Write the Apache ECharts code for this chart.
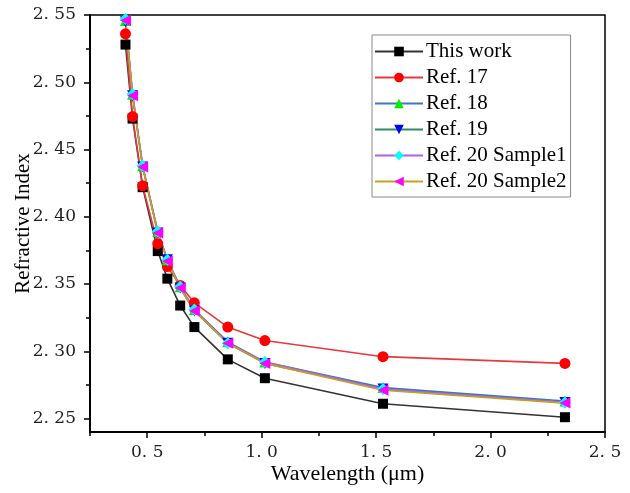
<!DOCTYPE html>
<html lang="en">
  <head>
    <meta charset="utf-8">
    <title>Refractive index</title>
    <script src="https://cdn.jsdelivr.net/npm/echarts@6/dist/echarts.min.js"></script>
    <style>
      html, body { margin: 0; padding: 0; background: #fff; }
    </style>
  </head>
  <body>
    <div id="main" style="width:630px;height:493px;"></div>

    <script>
    // wavelengths in um
    var wavelength = [0.405, 0.436, 0.48, 0.546, 0.588, 0.644, 0.706, 0.852, 1.014, 1.53, 2.325];

    var thisWork = [2.528, 2.473, 2.422, 2.3745, 2.354, 2.334, 2.318, 2.294, 2.280, 2.261, 2.251];
    var ref17    = [2.536, 2.4745, 2.423, 2.380, 2.363, 2.349, 2.336, 2.318, 2.308, 2.296, 2.291];
    var ref18    = [2.546, 2.491, 2.438, 2.389, 2.368, 2.348, 2.331, 2.307, 2.292, 2.273, 2.263];
    var ref19    = [2.545, 2.490, 2.437, 2.388, 2.368, 2.347, 2.330, 2.306, 2.291, 2.272, 2.262];
    var ref20s1  = [2.547, 2.491, 2.438, 2.389, 2.368, 2.348, 2.331, 2.306, 2.292, 2.272, 2.262];
    var ref20s2  = [2.546, 2.490, 2.437, 2.388, 2.367, 2.347, 2.330, 2.306, 2.291, 2.271, 2.2615];

    var xMajor = [0.5, 1.0, 1.5, 2.0, 2.5];
    var xMinor = [0.25, 0.75, 1.25, 1.75, 2.25];
    var yMajor = [2.25, 2.30, 2.35, 2.40, 2.45, 2.50, 2.55];
    var yMinor = [2.275, 2.325, 2.375, 2.425, 2.475, 2.525];

    var font = 'Liberation Serif';
    var tickFont = 'DejaVu Serif';
    var myChart = echarts.init(document.getElementById('main'));

    function pairs(ys) {
      return ys.map((v, i) => [wavelength[i], v]);
    }

    function mkSeries(name, ys, lineColor, markColor, symbol, rot, size) {
      return {
        name: name,
        type: 'line',
        xAxisIndex: 0,
        yAxisIndex: 0,
        data: pairs(ys),
        symbol: symbol,
        symbolSize: size,
        symbolRotate: rot,
        showAllSymbol: true,
        lineStyle: { color: lineColor, width: 1.6 },
        itemStyle: { color: markColor, borderWidth: 0 },
        emphasis: { disabled: true },
        animation: false
      };
    }

    var axisLine = { show: true, lineStyle: { color: '#000', width: 2 } };

    var option = {
      backgroundColor: '#fff',
      grid: {
        left: 90, top: 15, right: 25, bottom: 61,
        containLabel: false,
        outerBoundsMode: 'none',
        show: true, borderColor: '#000', borderWidth: 1.5
      },
      legend: {
        orient: 'vertical',
        left: 372, top: 35,
        padding: [6, 4, 5, 2],
        itemGap: 5,
        itemWidth: 48,
        itemHeight: 12,
        backgroundColor: '#fff',
        borderColor: '#888',
        borderWidth: 1,
        textStyle: { fontFamily: font, fontSize: 21, color: '#000', padding: [0, 0, 0, -2] },
        data: ['This work', 'Ref. 17', 'Ref. 18', 'Ref. 19', 'Ref. 20 Sample1', 'Ref. 20 Sample2']
      },
      xAxis: [{
        type: 'value',
        min: 0.25, max: 2.5,
        name: 'Wavelength (\u03bcm)',
        nameLocation: 'middle',
        nameGap: 31,
        nameMoveOverlap: false,
        nameTextStyle: { fontFamily: font, fontSize: 22, color: '#000' },
        axisLine: axisLine,
        axisTick: { show: true, length: 6, customValues: xMajor, lineStyle: { color: '#000', width: 1.5 } },
        axisLabel: {
          customValues: xMajor, margin: 12,
          fontFamily: tickFont, fontSize: 17, color: '#222',
          formatter: (v) => v.toFixed(1).replace('.', '. ')
        },
        splitLine: { show: false }
      }, {
        type: 'value',
        min: 0.25, max: 2.5,
        position: 'bottom',
        axisLine: { show: false },
        axisTick: { show: true, length: 4, customValues: xMinor, lineStyle: { color: '#000', width: 1.5 } },
        axisLabel: { show: false },
        splitLine: { show: false }
      }],
      yAxis: [{
        type: 'value',
        min: 2.24, max: 2.55,
        name: 'Refractive Index',
        nameLocation: 'middle',
        nameGap: 56,
        nameMoveOverlap: false,
        nameTextStyle: { fontFamily: font, fontSize: 21, color: '#000' },
        axisLine: axisLine,
        axisTick: { show: true, length: 6, customValues: yMajor, lineStyle: { color: '#000', width: 1.5 } },
        axisLabel: {
          customValues: yMajor, margin: 14,
          fontFamily: tickFont, fontSize: 17, color: '#222',
          formatter: (v) => v.toFixed(2).replace('.', '. ')
        },
        splitLine: { show: false }
      }, {
        type: 'value',
        min: 2.24, max: 2.55,
        position: 'left',
        offset: 0,
        axisLine: { show: false },
        axisTick: { show: true, length: 4, customValues: yMinor, lineStyle: { color: '#000', width: 1.5 } },
        axisLabel: { show: false },
        splitLine: { show: false }
      }],
      series: [
        mkSeries('This work', thisWork, '#333333', '#000000', 'rect', 0, 10),
        mkSeries('Ref. 17', ref17, '#e8383d', '#ff0000', 'circle', 0, 11),
        mkSeries('Ref. 18', ref18, '#3a78c0', '#00ee00', 'triangle', 0, 11),
        mkSeries('Ref. 19', ref19, '#2e8b6a', '#0000ff', 'triangle', 180, 11),
        mkSeries('Ref. 20 Sample1', ref20s1, '#b060e0', '#00ffff', 'diamond', 0, 12),
        mkSeries('Ref. 20 Sample2', ref20s2, '#c8a020', '#ff00ff', 'triangle', 90, 11)
      ]
    };

    myChart.setOption(option);
    </script>
  </body>
</html>
